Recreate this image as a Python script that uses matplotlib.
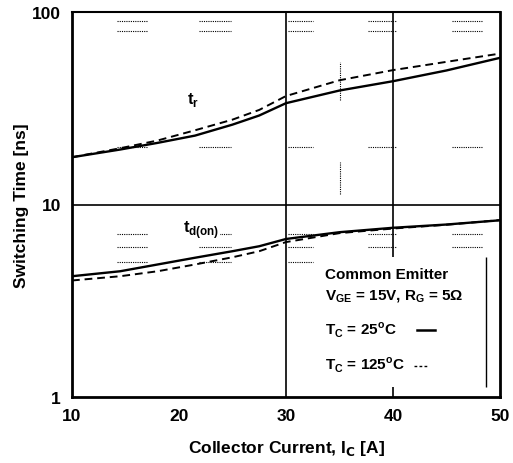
import matplotlib.pyplot as plt

plt.rcParams['font.family'] = ['Liberation Sans', 'DejaVu Sans']

# courant de collecteur [A]
ic = [10, 14.5, 18, 21.5, 25, 27.5, 30, 35, 40, 45, 50]

# temps de montée tr [ns]
tr_25 = [17.6, 19.3, 20.9, 22.8, 26.0, 29.0, 33.6, 39.1, 43.7, 49.7, 57.8]
tr_125 = [17.6, 19.6, 21.5, 24.3, 27.6, 31.0, 36.6, 44.2, 49.9, 55.1, 60.8]

# délai à l'allumage td(on) [ns]
td_25 = [4.24, 4.50, 4.88, 5.29, 5.72, 6.07, 6.62, 7.18, 7.57, 7.87, 8.28]
td_125 = [4.03, 4.24, 4.50, 4.88, 5.32, 5.72, 6.38, 7.1, 7.5, 7.85, 8.3]

xticks = [10, 20, 30, 40, 50]
yticks = [1, 10, 100]

fig = plt.figure(figsize=(5.13, 4.64), dpi=100)
ax = fig.add_axes([72 / 513, 1 - 398 / 464, 428 / 513, 385 / 464])

ax.plot(ic, tr_25, color='black', lw=1.7)
ax.plot(ic, tr_125, color='black', lw=1.4, ls=(0, (4, 2.5)))
ax.plot(ic, td_25, color='black', lw=1.7)
ax.plot(ic, td_125, color='black', lw=1.4, ls=(0, (4, 2.5)))

ax.set_yscale('log')
ax.set_xlim(10, 50)
ax.set_ylim(1, 100)
ax.set_xticks(xticks)
ax.set_xticklabels([str(v) for v in xticks])
ax.set_yticks(yticks)
ax.set_yticklabels([str(v) for v in yticks])
ax.minorticks_off()
ax.tick_params(length=0, labelsize=12.5, pad=8)
for lab in ax.get_xticklabels() + ax.get_yticklabels():
    lab.set_fontweight('bold')

# grille principale
ax.axvline(30, color='black', lw=1.2)
ax.vlines(40, 5.36, 100, color='black', lw=1.2)
ax.vlines(40, 1.0, 1.127, color='black', lw=1.2)
ax.axhline(10, color='black', lw=1.2)

# restes de grille secondaire en pointillés
seg_x = [(14.2, 17.1), (21.9, 24.9), (30.2, 32.5), (37.7, 40.3), (45.5, 48.3)]
for y in [80, 90, 20, 5, 6, 7]:
    for x0, x1 in seg_x:
        if y == 5 and x0 > 31:
            continue
        ax.hlines(y, x0, x1, color='black', lw=0.8, ls=(0, (1, 1)))
ax.vlines(35, 35.1, 54.7, color='black', lw=0.8, ls=(0, (1, 1)))
ax.vlines(35, 11.3, 16.7, color='black', lw=0.8, ls=(0, (1, 1)))

for side in ['left', 'bottom', 'right']:
    ax.spines[side].set_linewidth(2)
ax.spines['top'].set_linewidth(1.5)

ax.set_xlabel('Collector Current, I$_\\mathbf{C}$ [A]', fontsize=12.5,
              fontweight='bold', labelpad=11)
ax.set_ylabel('Switching Time [ns]', fontsize=12.5, fontweight='bold', labelpad=2)

ax.text(20.75, 33.5, 't$_\\mathregular{r}$', fontsize=12, fontweight='bold')
ax.text(20.4, 7.2, 't$_\\mathregular{d(on)}$', fontsize=12, fontweight='bold',
        bbox=dict(facecolor='white', edgecolor='none', pad=0))

# légende dessinée à la main
ax.text(33.6, 4.15, 'Common Emitter', fontsize=11, fontweight='bold')
ax.text(33.6, 3.2, 'V$_\\mathregular{GE}$ = 15V, R$_\\mathregular{G}$ = 5Ω',
        fontsize=11, fontweight='bold')
ax.text(33.6, 2.12, 'T$_\\mathregular{C}$ = 25$^\\mathregular{o}\\mathregular{C}$',
        fontsize=11, fontweight='bold')
ax.text(33.6, 1.4, 'T$_\\mathregular{C}$ = 125$^\\mathregular{o}\\mathregular{C}$',
        fontsize=11, fontweight='bold')
ax.plot([42.2, 43.9], [2.22, 2.22], color='black', lw=1.8)
ax.plot([42.0, 43.4], [1.45, 1.45], color='black', lw=1, ls=(0, (2, 1.6)))
ax.vlines(48.7, 1.127, 5.34, color='black', lw=1)

fig.savefig('out.png', dpi=100)
